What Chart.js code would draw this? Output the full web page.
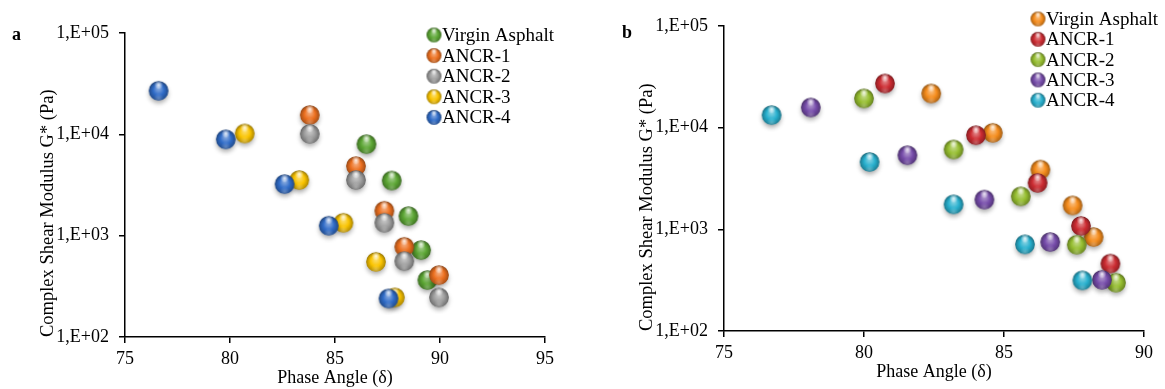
<!DOCTYPE html>
<html>
<head>
<meta charset="utf-8">
<script src="https://cdn.jsdelivr.net/npm/chart.js@4"></script>
<style>
  body { margin: 0; background: #fff; }
  #wrap { position: relative; width: 1165px; height: 389px; }
  .panel { position: absolute; top: 0; }
  .tag { position: absolute; font: bold 18px "Liberation Serif", serif; color: #000; }
</style>
</head>
<body>
<div id="wrap">
  <div class="panel" style="left:0;width:590px;height:389px"><canvas id="chartA" width="590" height="389"></canvas></div>
  <div class="panel" style="left:595px;width:570px;height:389px"><canvas id="chartB" width="570" height="389"></canvas></div>
  <div class="tag" style="left:12px;top:24px">a</div>
  <div class="tag" style="left:622px;top:22px">b</div>
</div>
<script>
// series names (same in both panels)
const seriesNames = ['Virgin Asphalt', 'ANCR-1', 'ANCR-2', 'ANCR-3', 'ANCR-4'];
const yTickValues = [1e2, 1e3, 1e4, 1e5];
const yTickLabels = ['1,E+02', '1,E+03', '1,E+04', '1,E+05'];

// panel a: phase angle (deg) and G* (Pa)
const aVirginPhase = [86.5, 87.7, 88.5, 89.1, 89.4];
const aVirginG     = [8000, 3500, 1560, 720, 365];
const aAncr1Phase  = [83.8, 86.0, 87.35, 88.3, 89.95];
const aAncr1G      = [15500, 4860, 1760, 776, 408];
const aAncr2Phase  = [83.8, 86.0, 87.35, 88.3, 89.95];
const aAncr2G      = [10100, 3540, 1340, 560, 246];
const aAncr3Phase  = [80.7, 83.3, 85.4, 86.95, 87.85];
const aAncr3G      = [10200, 3540, 1340, 552, 246];
const aAncr4Phase  = [76.6, 79.8, 82.6, 84.7, 87.55];
const aAncr4G      = [26900, 8930, 3230, 1254, 240];

// panel b
const bVirginPhase = [82.4, 84.6, 86.3, 87.45, 88.2];
const bVirginG     = [21700, 8890, 3870, 1720, 840];
const bAncr1Phase  = [80.75, 84.0, 86.2, 87.75, 88.8];
const bAncr1G      = [27200, 8430, 2860, 1080, 460];
const bAncr2Phase  = [80.0, 83.2, 85.6, 87.6, 89.0];
const bAncr2G      = [19400, 6100, 2110, 706, 299];
const bAncr3Phase  = [78.1, 81.55, 84.3, 86.65, 88.5];
const bAncr3G      = [15800, 5360, 1960, 750, 319];
const bAncr4Phase  = [76.7, 80.2, 83.2, 85.75, 87.8];
const bAncr4G      = [13300, 4600, 1760, 712, 315];

const aXTicks = [75, 95];
const bXTicks = [75, 90];

const colorsA = [[92, 166, 52], [236, 112, 32], [158, 158, 158], [250, 196, 0], [48, 108, 200]];
const colorsB = [[245, 140, 28], [204, 44, 50], [150, 190, 48], [118, 76, 170], [40, 176, 206]];

const FONT = '"Liberation Serif", "Times New Roman", serif';

function mix(c, t, k) {
  return 'rgb(' + c.map((v, i) => Math.round(v + (t[i] - v) * k)).join(',') + ')';
}

// 3D-looking ball used as point style
function makeBall(c, r, shadow) {
  const pad = 7;
  const size = Math.ceil(2 * r + pad * 2);
  const cv = document.createElement('canvas');
  cv.width = size; cv.height = size;
  const g = cv.getContext('2d');
  const cx = size / 2, cy = size / 2;
  if (shadow) {
    g.save();
    g.shadowColor = 'rgba(0,0,0,0.35)';
    g.shadowBlur = 5;
    g.shadowOffsetY = 3;
    g.beginPath(); g.arc(cx, cy, r - 0.5, 0, Math.PI * 2);
    g.fillStyle = mix(c, [0, 0, 0], 0.3); g.fill();
    g.restore();
  }
  const body = g.createRadialGradient(cx, cy - r * 0.3, r * 0.05, cx, cy + r * 0.1, r * 1.05);
  body.addColorStop(0, mix(c, [255, 255, 255], 0.45));
  body.addColorStop(0.5, mix(c, [0, 0, 0], 0.0));
  body.addColorStop(0.85, mix(c, [0, 0, 0], 0.25));
  body.addColorStop(1, mix(c, [0, 0, 0], 0.4));
  g.beginPath(); g.arc(cx, cy, r, 0, Math.PI * 2);
  g.fillStyle = body; g.fill();
  // bottom reflection
  const lo = g.createRadialGradient(cx, cy + r * 0.75, 0, cx, cy + r * 0.75, r * 0.5);
  lo.addColorStop(0, 'rgba(255,255,255,0.25)');
  lo.addColorStop(1, 'rgba(255,255,255,0)');
  g.fillStyle = lo; g.beginPath(); g.arc(cx, cy, r, 0, Math.PI * 2); g.fill();
  // specular highlight
  const hl = g.createRadialGradient(cx, cy - r * 0.6, 0, cx, cy - r * 0.6, r * 0.45);
  hl.addColorStop(0, 'rgba(255,255,255,0.9)');
  hl.addColorStop(1, 'rgba(255,255,255,0)');
  g.fillStyle = hl; g.beginPath(); g.arc(cx, cy, r, 0, Math.PI * 2); g.fill();
  return cv;
}

function toPoints(xs, ys) {
  return xs.map((x, i) => ({ x: x, y: ys[i] }));
}

const ballLegend = {
  id: 'ballLegend',
  afterDraw(chart, args, opts) {
    const ctx = chart.ctx;
    ctx.save();
    ctx.font = '19px ' + FONT;
    ctx.fillStyle = '#000';
    ctx.textBaseline = 'middle';
    ctx.textAlign = 'left';
    chart.data.datasets.forEach((ds, i) => {
      const y = opts.y + i * opts.step;
      const img = ds.legendBall;
      ctx.drawImage(img, opts.x - img.width / 2, y - img.height / 2);
      ctx.fillText(ds.label, opts.x + 8, y + 1);
    });
    ctx.restore();
  }
};

function makeChart(id, xs, ys, colors, xr, box, legendPos) {
  const datasets = seriesNames.map((name, i) => ({
    label: name,
    data: toPoints(xs[i], ys[i]),
    pointStyle: makeBall(colors[i], 9.8, true),
    legendBall: makeBall(colors[i], 7.5, false),
    pointRadius: 10,
    order: seriesNames.length - i, // later series drawn on top
    clip: false
  }));
  return new Chart(document.getElementById(id).getContext('2d'), {
    type: 'scatter',
    data: { datasets: datasets },
    plugins: [ballLegend],
    options: {
      responsive: false,
      animation: false,
      events: [],
      layout: { padding: { left: box.left, right: box.right, top: box.top, bottom: box.bottom } },
      plugins: {
        legend: { display: false },
        tooltip: { enabled: false },
        ballLegend: legendPos
      },
      scales: {
        x: {
          type: 'linear',
          min: xr[0], max: xr[1],
          afterFit: (s) => { s.height = box.xh; },
          ticks: { stepSize: 5, color: '#000', font: { family: FONT, size: 18 }, padding: 5 },
          grid: { drawOnChartArea: false, drawTicks: true, tickLength: 6, color: '#000', lineWidth: 1.5 },
          border: { color: '#000', width: 1.5 },
          title: { display: true, text: 'Phase Angle (δ)', color: '#000', font: { family: FONT, size: 18 }, padding: { top: 0, bottom: 0 } }
        },
        y: {
          type: 'logarithmic',
          min: 100, max: 100000,
          afterFit: (s) => { s.width = box.yw; },
          afterBuildTicks: (s) => { s.ticks = yTickValues.map(v => ({ value: v })); },
          ticks: {
            color: '#000', font: { family: FONT, size: 18 }, padding: 10,
            callback: (v) => yTickLabels[yTickValues.indexOf(v)]
          },
          grid: { drawOnChartArea: false, drawTicks: true, tickLength: 6, color: '#000', lineWidth: 1.5 },
          border: { color: '#000', width: 1.5 },
          title: { display: true, align: 'start', text: 'Complex Shear Modulus G* (Pa)', color: '#000', font: { family: FONT, size: 18.5 }, padding: { top: 0, bottom: 0 } }
        }
      }
    }
  });
}

makeChart('chartA',
  [aVirginPhase, aAncr1Phase, aAncr2Phase, aAncr3Phase, aAncr4Phase],
  [aVirginG, aAncr1G, aAncr2G, aAncr3G, aAncr4G],
  colorsA, aXTicks,
  { left: 37, right: 45, top: 33, bottom: 0, xh: 52, yw: 88 },
  { x: 434, y: 35, step: 20.6 });

makeChart('chartB',
  [bVirginPhase, bAncr1Phase, bAncr2Phase, bAncr3Phase, bAncr4Phase],
  [bVirginG, bAncr1G, bAncr2G, bAncr3G, bAncr4G],
  colorsB, bXTicks,
  { left: 41, right: 21, top: 26, bottom: 6, xh: 52, yw: 88 },
  { x: 443, y: 19, step: 20.3 });
</script>
</body>
</html>
